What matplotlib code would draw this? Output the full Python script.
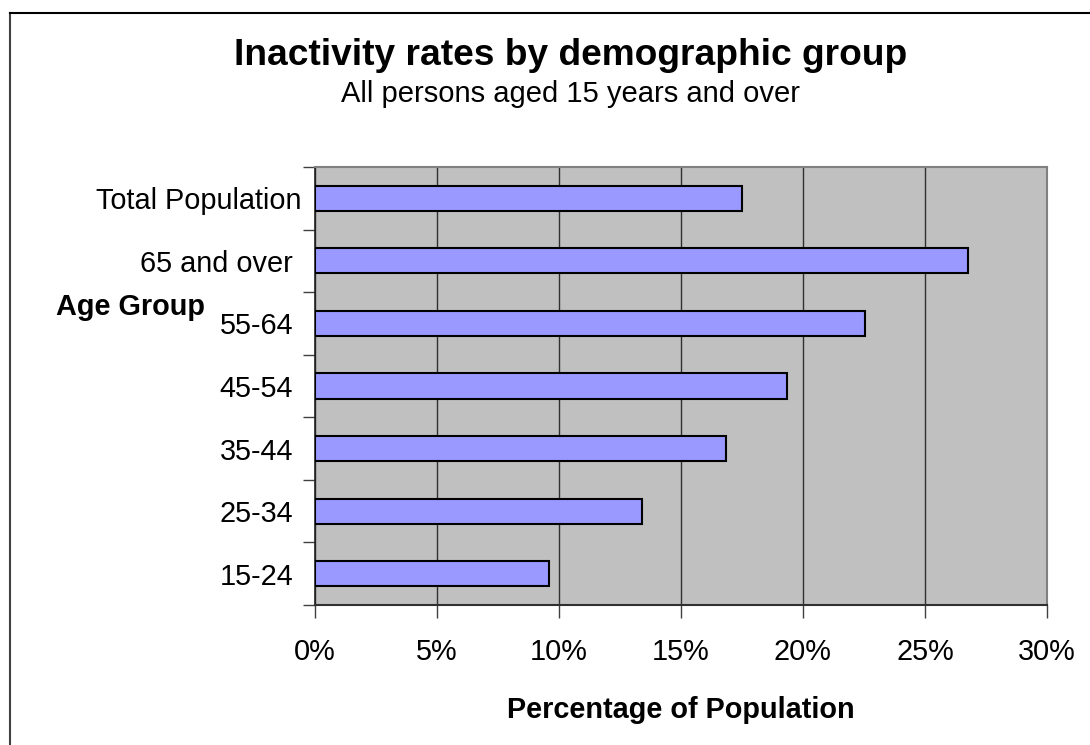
import matplotlib
matplotlib.use("Agg")
import matplotlib.pyplot as plt
from matplotlib.lines import Line2D
from matplotlib.transforms import ScaledTranslation
import numpy as np

# ---- data ----
categories = ['15-24', '25-34', '35-44', '45-54', '55-64', '65 and over', 'Total Population']
rates = [9.6, 13.4, 16.85, 19.35, 22.55, 26.75, 17.5]   # percent of population
x_ticks = [0, 5, 10, 15, 20, 25, 30]
x_tick_labels = ['0%', '5%', '10%', '15%', '20%', '25%', '30%']

title = 'Inactivity rates by demographic group'
subtitle = 'All persons aged 15 years and over'
x_label = 'Percentage of Population'
y_label = 'Age Group'

plt.rcParams['font.family'] = ['Liberation Sans', 'DejaVu Sans']

W, H = 1090, 745
fig = plt.figure(figsize=(W / 100, H / 100), dpi=100)
fig.patch.set_facecolor('white')

left, right, top, bottom = 314.7, 1047, 167, 605
ax = fig.add_axes([left / W, 1 - bottom / H, (right - left) / W, (bottom - top) / H])
ax.set_facecolor('#C0C0C0')

y = np.arange(len(categories))
ax.barh(y, rates, height=0.4, color='#9999FF', edgecolor='black', linewidth=1.5, zorder=3)

ax.set_xlim(0, 30)
ax.set_ylim(-0.5, len(categories) - 0.5)

ax.set_xticks(x_ticks)
ax.set_xticklabels(x_tick_labels, fontsize=20.8)
ax.tick_params(axis='x', direction='out', length=9, width=1, color='#404040', pad=15)

ax.set_yticks(y)
ax.set_yticklabels(categories, fontsize=20.8)
ax.set_yticks(np.arange(-0.5, len(categories), 1.0), minor=True)
ax.tick_params(axis='y', which='major', length=0, pad=15.6)
ax.tick_params(axis='y', which='minor', direction='out', length=9, width=1, color='#404040')

ax.grid(axis='x', color='#303030', linewidth=1.0, zorder=1)
ax.set_axisbelow(True)

for s in ['top', 'right']:
    ax.spines[s].set_color('#808080')
    ax.spines[s].set_linewidth(1.5)
ax.spines['left'].set_color('#202020')
ax.spines['left'].set_linewidth(1.2)
ax.spines['bottom'].set_color('#303030')
ax.spines['bottom'].set_linewidth(1.5)

# shift "Total Population" label slightly to the right as in the reference
for lbl in ax.get_yticklabels():
    if lbl.get_text() == 'Total Population':
        lbl.set_transform(lbl.get_transform() + ScaledTranslation(8.5 / 100, 0, fig.dpi_scale_trans))

# titles and labels
fig.text(571 / W, 1 - 65 / H, title, ha='center', va='baseline', fontsize=26.7, fontweight='bold')
fig.text(571 / W, 1 - 102 / H, subtitle, ha='center', va='baseline', fontsize=21)
fig.text((left + right) / 2 / W, 1 - 718 / H, x_label, ha='center', va='baseline', fontsize=20.8, fontweight='bold')
fig.text(56 / W, 1 - 315 / H, y_label, ha='left', va='baseline', fontsize=20.8, fontweight='bold')

# outer chart border (left and top visible)
fig.add_artist(Line2D([10 / W, 10 / W], [0, 1 - 13 / H], transform=fig.transFigure, color='#404040', linewidth=1.5))
fig.add_artist(Line2D([10 / W, 1], [1 - 13 / H, 1 - 13 / H], transform=fig.transFigure, color='black', linewidth=1.5))

fig.savefig('out.png', dpi=100, facecolor='white')
